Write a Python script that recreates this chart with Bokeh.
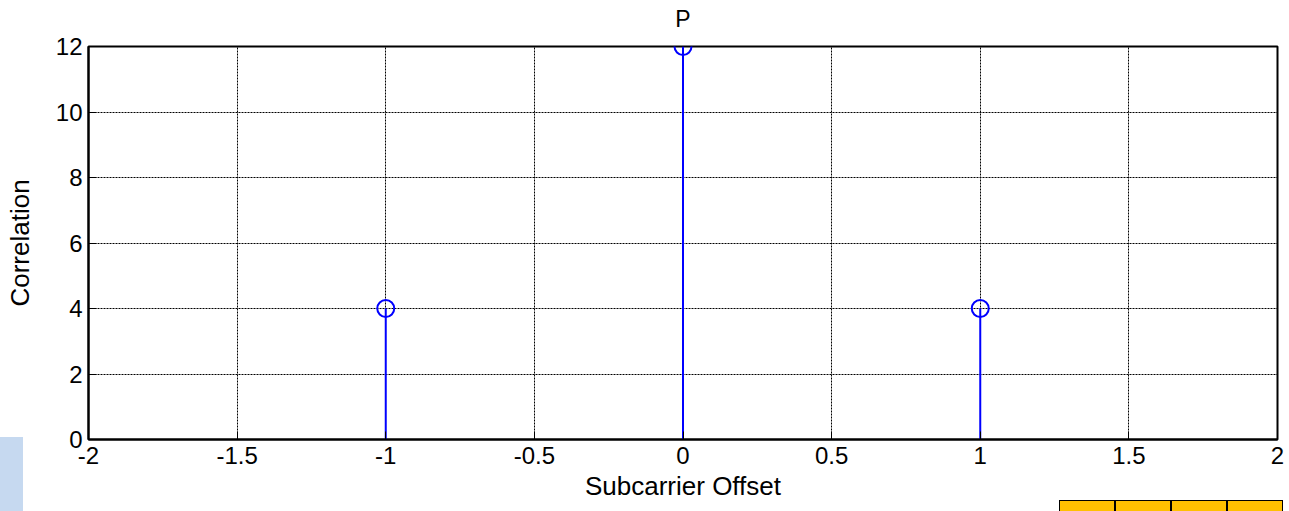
from bokeh.plotting import figure
from bokeh.models import FixedTicker, Range1d, Div, LinearAxis
from bokeh.layouts import column
from bokeh.embed import file_html
from bokeh.resources import INLINE

# data
offsets = [-1, 0, 1]
correlation = [4, 12, 4]
x_ticks = [-2, -1.5, -1, -0.5, 0, 0.5, 1, 1.5, 2]
x_tick_labels = ["-2", "-1.5", "-1", "-0.5", "0", "0.5", "1", "1.5", "2"]
y_ticks = [0, 2, 4, 6, 8, 10, 12]
y_tick_labels = ["0", "2", "4", "6", "8", "10", "12"]
title_text = "P"

FONT = "Liberation Sans"

p = figure(width=1289, height=511, output_backend="svg", toolbar_location=None,
           x_range=Range1d(-2, 2), y_range=Range1d(0, 12),
           min_border_left=88, min_border_right=12, min_border_top=46, min_border_bottom=72)

p.background_fill_color = "white"
p.border_fill_color = "white"
p.outline_line_color = "black"
p.outline_line_width = 2
p.outline_line_alpha = 1

p.segment(x0=offsets, y0=[0] * len(offsets), x1=offsets, y1=correlation,
          line_color="#0000ff", line_width=2)
p.scatter(offsets, correlation, marker="circle", size=17, fill_color=None,
          line_color="#0000ff", line_width=2)

p.xaxis.ticker = FixedTicker(ticks=x_ticks)
p.xaxis.major_label_overrides = {t: l for t, l in zip(x_ticks, x_tick_labels)}
p.yaxis.ticker = FixedTicker(ticks=y_ticks)
p.yaxis.major_label_overrides = {t: l for t, l in zip(y_ticks, y_tick_labels)}

for ax in (p.xaxis[0], p.yaxis[0]):
    ax.axis_line_color = "black"
    ax.axis_line_width = 2
    ax.major_tick_in = 8
    ax.major_tick_out = 0
    ax.major_tick_line_color = "black"
    ax.minor_tick_line_color = None
    ax.major_label_text_font = FONT
    ax.major_label_text_font_size = "24px"
    ax.major_label_text_color = "black"
    ax.axis_label_text_font = FONT
    ax.axis_label_text_font_size = "26px"
    ax.axis_label_text_font_style = "normal"
    ax.axis_label_text_color = "black"

p.xaxis.axis_label = "Subcarrier Offset"
p.yaxis.axis_label = "Correlation"
p.xaxis.major_label_standoff = 7
p.xaxis.axis_label_standoff = 4
p.yaxis.major_label_standoff = 6
p.yaxis.axis_label_standoff = 18

# title drawn as the label of a bare axis above the frame
top = LinearAxis(ticker=FixedTicker(ticks=[]), axis_label=title_text,
                 axis_line_color=None, major_tick_line_color=None,
                 minor_tick_line_color=None, major_label_text_font_size="0px",
                 major_label_standoff=0, axis_label_standoff=15,
                 axis_label_text_font=FONT, axis_label_text_font_size="23px",
                 axis_label_text_font_style="normal", axis_label_text_color="black")
p.add_layout(top, "above")

p.grid.grid_line_color = "black"
p.grid.grid_line_dash = "2 1"
p.grid.grid_line_width = 1

# decorative fragments visible at the edges of the original screenshot
deco_html = (
    '<div style="position:fixed;left:0px;top:437px;width:23px;height:74px;background:#c6d9f0"></div>'
    '<div style="position:fixed;left:1059px;top:500px;height:20px;display:flex">'
    + "".join('<div style="width:56px;height:20px;background:#ffc000;border:1px solid black"></div>'
              for _ in range(4))
    + '</div>'
)
deco = Div(text=deco_html, width=1, height=0, margin=0)

open("out.html", "w").write(file_html(column(p, deco, spacing=0), INLINE))
